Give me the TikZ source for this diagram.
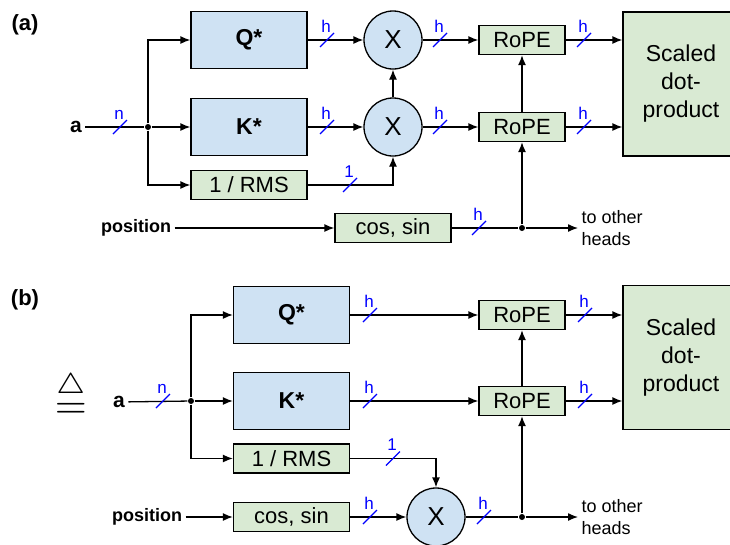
\documentclass[tikz,border=0pt]{standalone}
\usepackage{fontspec}
\setmainfont{Liberation Sans}
\usetikzlibrary{arrows.meta,calc}
\tikzset{>={Latex[length=10pt,width=8pt]}}
\definecolor{wblue}{HTML}{CFE2F3}
\definecolor{fgreen}{HTML}{D9EAD3}
\newcommand{\fsz}[1]{\fontsize{#1}{#1}\selectfont}
\tikzstyle{weight}=[rectangle,draw,fill=wblue,line width=1.3pt,minimum width=116pt,minimum height=57pt,font=\bfseries\fsz{23}]
\tikzstyle{func}=[rectangle,draw,fill=fgreen,line width=1.3pt,minimum width=116pt,minimum height=29pt,inner sep=0pt,font=\fsz{22}]
\tikzstyle{rope}=[func,minimum width=86pt]
\tikzstyle{attn}=[func,minimum height=144pt,align=center,font=\fontsize{23}{28}\selectfont]
\tikzstyle{mult}=[circle,draw,fill=wblue,line width=1.3pt,minimum size=58pt,inner sep=0pt,font=\fsz{26}]
\tikzstyle{junction}=[circle,fill=black,inner sep=0pt,minimum size=6pt]
\tikzstyle{busline}=[draw=blue,line width=1.2pt]
\tikzstyle{buswidth}=[blue,anchor=base,inner sep=0pt,font=\fsz{17}]
\tikzstyle{sig}=[inner sep=3pt,font=\bfseries\fsz{21}]
\tikzstyle{others}=[anchor=west,align=left,inner sep=3pt,font=\fontsize{18}{22}\selectfont]

\begin{document}
\begin{tikzpicture}[x=1pt,y=-1pt,line width=1.3pt]
\useasboundingbox (0,0) rectangle (730,544);
\def \colw {249};
\def \colwb {291.5};

% (a)
\node[font=\bfseries\fsz{22}] (taga) at (25,25) {(a)};
\node[sig] (ina) at (76,127) {a};
\node[junction] (dota) at (148,127) {};
\node[weight] (Qa) at (\colw,40) {Q*};
\node[weight] (Ka) at (\colw,127) {K*};
\node[func] (RMSa) at (\colw,185) {1 / RMS};
\node[mult] (Xqa) at (393,40) {X};
\node[mult] (Xka) at (393,127) {X};
\node[rope] (Rqa) at (522,40) {RoPE};
\node[rope] (Rka) at (522,127) {RoPE};
\node[attn] (SDa) at (681,84) {Scaled\\dot-\\product};
\node[sig,font=\bfseries\fsz{18}] (posa) at (136,228) {position};
\node[func] (CSa) at (393,228) {cos, sin};
\node[junction] (spla) at (522,228) {};
\node[others] (otha) at (578,228) {to other\\heads};

\draw (ina) -- (dota);
\draw[->] (dota) -- (Ka);
\draw[->] (dota) |- (Qa);
\draw[->] (dota) |- (RMSa);
\draw[->] (Qa) -- (Xqa);
\draw[->] (Ka) -- (Xka);
\draw[->] (RMSa) -| (Xka);
\draw[->] (Xka) -- (Xqa);
\draw[->] (Xqa) -- (Rqa);
\draw[->] (Xka) -- (Rka);
\draw[->] (Rqa) -- (Rqa -| SDa.west);
\draw[->] (Rka) -- (Rka -| SDa.west);
\draw[->] (posa) -- (CSa);
\draw (CSa) -- (spla);
\draw[->] (spla) -- (otha);
\draw[->] (spla) -- (Rka);
\draw[->] (Rka) -- (Rqa);

% (b)
\node[font=\bfseries\fsz{22}] (tagb) at (25,300) {(b)};
\node[inner sep=0pt] (eqv) at (71,394) {\resizebox{32pt}{!}{$\stackrel{\triangle}{=}$}};
\node[sig] (inb) at (119,402) {a};
\node[junction] (dotb) at (191,401) {};
\node[weight] (Qb) at (\colwb,315) {Q*};
\node[weight] (Kb) at (\colwb,401) {K*};
\node[func] (RMSb) at (\colwb,458.5) {1 / RMS};
\node[func] (CSb) at (\colwb,517) {cos, sin};
\node[sig,font=\bfseries\fsz{18}] (posb) at (147,517) {position};
\node[mult] (Xb) at (436,517) {X};
\node[rope] (Rqb) at (522,315) {RoPE};
\node[rope] (Rkb) at (522,401) {RoPE};
\node[attn] (SDb) at (681,357.5) {Scaled\\dot-\\product};
\node[junction] (splb) at (522,517) {};
\node[others] (othb) at (578,517) {to other\\heads};

\draw (inb) -- (dotb);
\draw[->] (dotb) -- (Kb);
\draw[->] (dotb) |- (Qb);
\draw[->] (dotb) |- (RMSb);
\draw[->] (Qb) -- (Rqb);
\draw[->] (Kb) -- (Rkb);
\draw[->] (Rqb) -- (Rqb -| SDb.west);
\draw[->] (Rkb) -- (Rkb -| SDb.west);
\draw[->] (posb) -- (CSb);
\draw[->] (CSb) -- (Xb);
\draw[->] (RMSb) -| (Xb);
\draw (Xb) -- (splb);
\draw[->] (splb) -- (othb);
\draw[->] (splb) -- (Rkb);
\draw[->] (Rkb) -- (Rqb);

% bus widths
\foreach \x/\y/\t [count=\k] in {120/127/n, 327/40/h, 327/127/h, 350/185/1, 440/40/h, 440/127/h, 584/40/h, 584/127/h, 479/228/h, 163/401/n, 370/315/h, 370/401/h, 393/458.5/1, 370/517/h, 484/517/h, 585/315/h, 585/401/h} {
	\draw[busline] (\x-7,\y+7) -- (\x+7,\y-7);
	\node[buswidth] (bw\k) at (\x-1,\y-8) {\t};
};

\end{tikzpicture}
\end{document}
